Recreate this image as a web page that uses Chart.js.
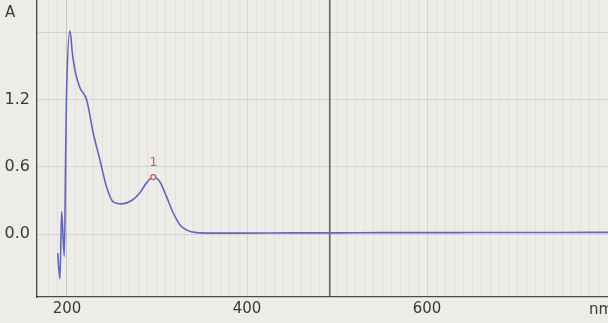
<!DOCTYPE html>
<html>
<head>
<meta charset="utf-8">
<script src="https://cdn.jsdelivr.net/npm/chart.js@4.4.1/dist/chart.umd.min.js"></script>
<style>
  html, body { margin:0; padding:0; background:#edece9; }
  #wrap { width:608px; height:323px; position:relative; }
</style>
</head>
<body>
<div id="wrap"><canvas id="spec"></canvas></div>
<script>
// spectrum: wavelength (nm) / absorbance (A)
var wavelengths = [189.7, 192.2, 194.1, 197.0, 198.6, 199.4, 203.3, 206, 209.5, 214.4, 221.9, 229.3, 236.7, 244, 251, 260.7, 271.9, 281, 288.5, 295.9, 303, 310.8, 318, 325.6, 333, 344, 360, 400, 450, 500, 550, 600, 650, 700, 750, 801];
var absorbance  = [-0.17, -0.40, 0.20, -0.20, 0.75, 1.20, 1.82, 1.62, 1.44, 1.31, 1.20, 0.90, 0.66, 0.42, 0.29, 0.27, 0.30, 0.37, 0.46, 0.51, 0.47, 0.33, 0.19, 0.08, 0.035, 0.012, 0.008, 0.008, 0.01, 0.01, 0.012, 0.012, 0.013, 0.014, 0.014, 0.015];
var peakWl = [295.9];
var peakAbs = [0.51];
var peakLabels = ['1'];
var cursorWl = 492;
var xTicks = [200, 400, 600];
var yTicks = [0.0, 0.6, 1.2];
var yGrid = [0, 0.6, 1.2, 1.8];

var spectrum = wavelengths.map(function(w, i) { return { x:w, y:absorbance[i] }; });
var peaks = peakWl.map(function(w, i) { return { x:w, y:peakAbs[i] }; });

var paperBg = {
  id:'paperBg',
  beforeDraw:function(c) {
    var g = c.ctx;
    g.save();
    g.fillStyle = '#edece9';
    g.fillRect(0, 0, c.width, c.height);
    g.restore();
  }
};

// unit labels and peak numbers
var labels = {
  id:'labels',
  afterDraw:function(c) {
    var g = c.ctx, xs = c.scales.x, ys = c.scales.y;
    g.save();
    g.font = '15px "DejaVu Sans", sans-serif';
    g.fillStyle = '#3a3a3a';
    g.textBaseline = 'middle';
    g.textAlign = 'left';
    g.fillText('A', 5, 13);
    g.fillText('nm', 589, 310);
    g.font = '13px "DejaVu Sans", sans-serif';
    g.fillStyle = '#d06060';
    g.textAlign = 'center';
    peaks.forEach(function(p, i) {
      g.fillText(peakLabels[i], xs.getPixelForValue(p.x), ys.getPixelForValue(p.y) - 14);
    });
    g.restore();
  }
};

new Chart(document.getElementById('spec'), {
  type:'line',
  data:{ datasets:[
    { data:spectrum, borderColor:'#6266b8', borderWidth:1.6, pointRadius:0, cubicInterpolationMode:'monotone', order:2 },
    { data:[{x:cursorWl, y:-0.7}, {x:cursorWl, y:2.3}], borderColor:'#3c3c3c', borderWidth:1.2, pointRadius:0, order:3 },
    { data:peaks, showLine:false, pointRadius:2.5, pointBorderWidth:1.3, pointBorderColor:'#d05a5a', pointBackgroundColor:'#f4eeee', order:1 }
  ]},
  options:{
    responsive:true, maintainAspectRatio:false, animation:false,
    layout:{ padding:0, autoPadding:false },
    plugins:{ legend:{display:false}, tooltip:{enabled:false} },
    scales:{
      x:{
        type:'linear', min:166.7, max:801,
        afterFit:function(s) { s.height = 26; s.paddingLeft = 0; s.paddingRight = 0; },
        ticks:{ stepSize:10, autoSkip:false, maxRotation:0, padding:3, color:'#3a3a3a',
          font:{ family:'DejaVu Sans', size:15 },
          callback:function(v) { return xTicks.indexOf(Math.round(v)) >= 0 && Math.abs(v - Math.round(v)) < 0.01 ? String(Math.round(v)) : ''; } },
        grid:{ drawTicks:false,
          color:function(ctx) { var v = ctx.tick ? Math.round(ctx.tick.value) : 0; return (v === 200) ? 'rgba(60,60,60,0.22)' : (v % 200 === 0 ? 'rgba(60,60,60,0.13)' : 'rgba(0,0,0,0.05)'); } },
        border:{ display:true, color:'#4a4a4a', width:1.3 }
      },
      y:{
        min:-0.564, max:2.095,
        afterFit:function(s) { s.width = 37; s.paddingTop = 0; s.paddingBottom = 0; },
        afterBuildTicks:function(s) { s.ticks = yGrid.map(function(v) { return { value:v }; }); },
        ticks:{ padding:7, color:'#3a3a3a',
          font:{ family:'DejaVu Sans', size:16 },
          callback:function(v) { var r = Math.round(v * 10) / 10; return yTicks.indexOf(r) >= 0 ? r.toFixed(1) : ''; } },
        grid:{ drawTicks:false, color:'rgba(0,0,0,0.09)' },
        border:{ display:true, color:'#4a4a4a', width:1.3 }
      }
    }
  },
  plugins:[paperBg, labels]
});
</script>
</body>
</html>
